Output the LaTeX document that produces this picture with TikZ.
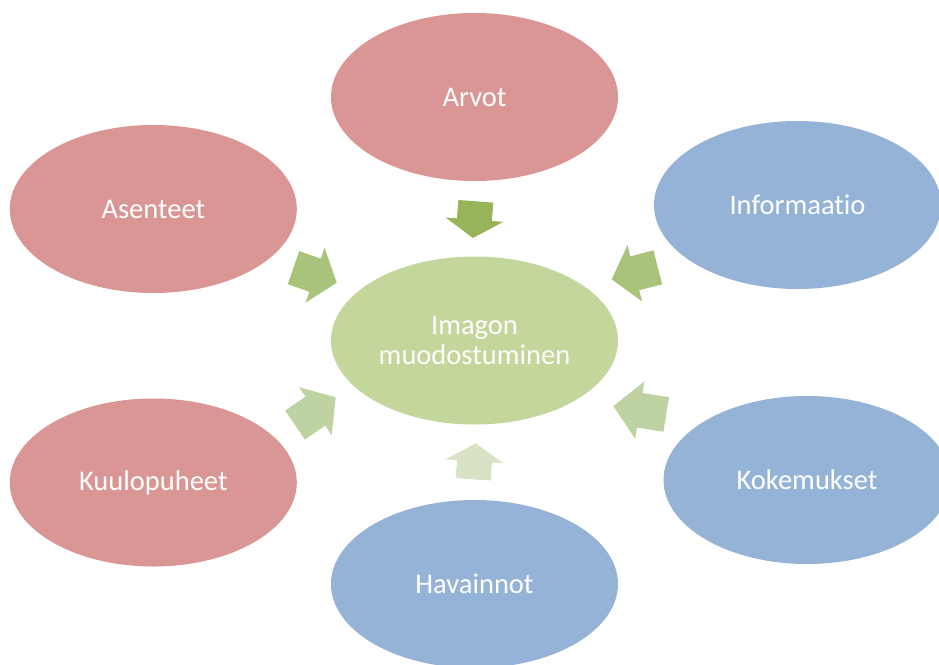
\documentclass[tikz,border=0pt]{standalone}
\usepackage{fontspec}
\setmainfont{Carlito}[Ligatures={NoCommon}]
\usetikzlibrary{calc,shapes.geometric}
\definecolor{redfill}{HTML}{D99694}
\definecolor{bluefill}{HTML}{95B3D7}
\definecolor{centerfill}{HTML}{C3D69B}
\definecolor{arrA}{HTML}{98B458}
\definecolor{arrB}{HTML}{A9C37A}
\definecolor{arrC}{HTML}{BFD2A1}
\definecolor{arrD}{HTML}{D7E3C4}
\newcommand\fatarrow[3]{%
  \coordinate (fa-h) at ($(#1)!0.5!(#2)$);
  \fill[#3] ($(#1)!17.5pt!-90:(#2)$) -- ($(fa-h)!17.5pt!-90:(#2)$) -- ($(fa-h)!29pt!-90:(#2)$) -- (#2)
    -- ($(fa-h)!29pt!90:(#2)$) -- ($(fa-h)!17.5pt!90:(#2)$) -- ($(#1)!17.5pt!90:(#2)$) -- cycle;}
\begin{document}
\begin{tikzpicture}[x=1pt,y=-1pt,
  bubble/.style={ellipse, minimum width=287pt, minimum height=168pt, inner sep=0pt,
    text=white, font=\fontsize{28.5}{29.5}\selectfont, align=center},
  redbubble/.style={bubble, fill=redfill},
  bluebubble/.style={bubble, fill=bluefill},
  centerbubble/.style={bubble, fill=centerfill}]
\path[use as bounding box] (0,0) rectangle (939,664);
\clip (0,0) rectangle (939,664);
\fill[white] (0,0) rectangle (939,664);

\node[redbubble] (arvot) at (474.5,97) {Arvot};
\node[redbubble] (asenteet) at (153.3,209) {Asenteet};
\node[bluebubble] (informaatio) at (797.5,205) {Informaatio};
\node[centerbubble] (center) at (474.5,340.5) {Imagon\\muodostuminen};
\node[redbubble] (kuulo) at (153.3,482.5) {Kuulopuheet};
\node[bluebubble] (kokemukset) at (807,480) {Kokemukset};
\node[bluebubble] (havainnot) at (474.5,584) {Havainnot};

\coordinate (a1t) at (475.8,201.3); \coordinate (a1h) at (473,238);
\coordinate (a2t) at (293.5,267.7); \coordinate (a2h) at (336.7,282.7);
\coordinate (a3t) at (657.8,267.3); \coordinate (a3h) at (611.7,279.3);
\coordinate (a4t) at (295,425);     \coordinate (a4h) at (335.7,397.3);
\coordinate (a5t) at (666.2,414.5); \coordinate (a5h) at (613.3,406);
\coordinate (a6t) at (473.2,479.3); \coordinate (a6h) at (475.7,443.3);

\fatarrow{a1t}{a1h}{arrA}
\fatarrow{a2t}{a2h}{arrB}
\fatarrow{a3t}{a3h}{arrB}
\fatarrow{a4t}{a4h}{arrC}
\fatarrow{a5t}{a5h}{arrC}
\fatarrow{a6t}{a6h}{arrD}
\end{tikzpicture}
\end{document}
